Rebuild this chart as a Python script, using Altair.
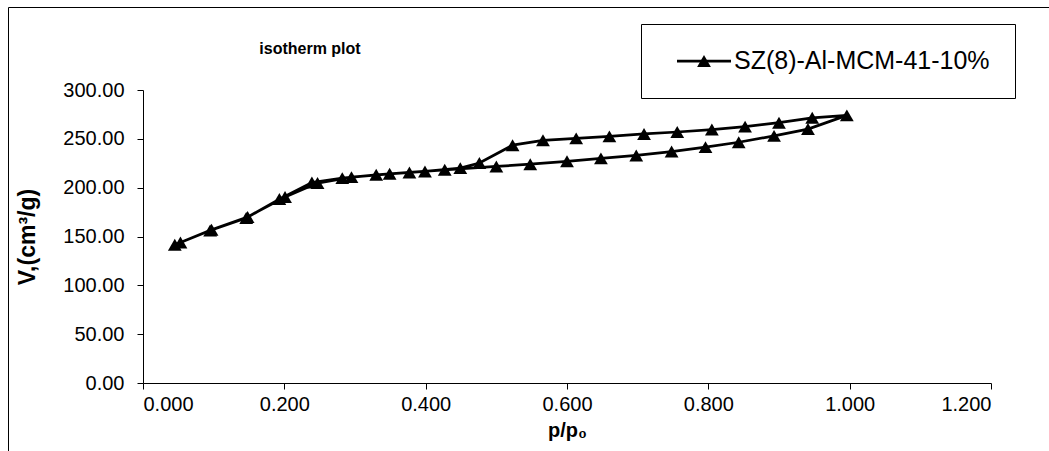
import altair as alt
import pandas as pd

# Isotherm: adsorption (ascending) followed by desorption (descending)
p_ads = [0.045, 0.095, 0.146, 0.193, 0.239, 0.282, 0.330, 0.377, 0.427, 0.500,
         0.548, 0.600, 0.648, 0.698, 0.748, 0.796, 0.843, 0.893, 0.941, 0.996]
v_ads = [141.6, 156.2, 168.9, 188.3, 205.3, 209.8, 213.2, 215.6, 218.3, 221.7,
         224.0, 227.0, 230.0, 233.0, 237.0, 241.5, 246.5, 253.0, 260.0, 274.0]
p_des = [0.947, 0.900, 0.852, 0.805, 0.756, 0.709, 0.660, 0.613, 0.566, 0.523,
         0.476, 0.449, 0.399, 0.349, 0.295, 0.247, 0.201, 0.148, 0.097, 0.053]
v_des = [271.5, 266.5, 262.5, 259.5, 257.0, 255.0, 252.5, 250.5, 248.5, 243.5,
         225.2, 220.0, 216.6, 214.2, 210.8, 204.7, 190.4, 170.0, 157.0, 143.9]

series_name = "SZ(8)-Al-MCM-41-10%"
chart_title = "isotherm plot"
x_ticks = [0.0, 0.2, 0.4, 0.6, 0.8, 1.0, 1.2]
y_ticks = [0, 50, 100, 150, 200, 250, 300]

p_all = p_ads + p_des
v_all = v_ads + v_des
df = pd.DataFrame({"p": p_all, "v": v_all, "o": list(range(len(p_all)))})
one = pd.DataFrame({"k": [0]})

FONT = "Liberation Sans"
W, H = 848, 293
PL, PT = 143, 90

x_enc = alt.X("p:Q", scale=alt.Scale(domain=[0, 1.2], nice=False, zero=False),
              axis=alt.Axis(values=x_ticks, format=".3f", title="p/p\u2080",
                            titleFontWeight="bold", titleFontSize=20, titlePadding=6,
                            labelFontSize=20, labelPadding=5, tickSize=6,
                            grid=False, domainColor="#000000", tickColor="#000000",
                            labelColor="#000000", titleColor="#000000", labelFont=FONT,
                            titleFont=FONT))
y_enc = alt.Y("v:Q", scale=alt.Scale(domain=[0, 300], nice=False),
              axis=alt.Axis(values=y_ticks, format=".2f", title="V,(cm\u00b3/g)",
                            titleFontWeight="bold", titleFontSize=23, titlePadding=23,
                            labelFontSize=20, labelPadding=13, tickSize=6,
                            grid=False, domainColor="#000000", tickColor="#000000",
                            labelColor="#000000", titleColor="#000000", labelFont=FONT,
                            titleFont=FONT))

frame = alt.Chart(one).mark_rect(filled=False, stroke="#000000", strokeWidth=1).encode(
    x=alt.value(8 - PL + 0.5), y=alt.value(7 - PT + 0.5),
    x2=alt.value(1049 - PL + 30), y2=alt.value(451 - PT + 30))

line = alt.Chart(df).mark_line(color="#000000", strokeWidth=2.75).encode(
    x=x_enc, y=y_enc, order="o:Q")
pts = alt.Chart(df).mark_point(shape="triangle-up", filled=True, size=190,
                               color="#000000", opacity=1).encode(x="p:Q", y="v:Q")

leg_box = alt.Chart(one).mark_rect(fill="#ffffff", stroke="#000000", strokeWidth=1).encode(
    x=alt.value(641 - PL + 0.5), x2=alt.value(1015 - PL + 0.5),
    y=alt.value(24 - PT + 0.5), y2=alt.value(98 - PT + 0.5))
leg_line = alt.Chart(one).mark_rule(color="#000000", strokeWidth=2.75).encode(
    x=alt.value(677 - PL), x2=alt.value(731 - PL), y=alt.value(61 - PT))
leg_pt = alt.Chart(one).mark_point(shape="triangle-up", filled=True, size=190,
                                   color="#000000", opacity=1).encode(
    x=alt.value(704 - PL), y=alt.value(61 - PT))
leg_text = alt.Chart(one).mark_text(align="left", baseline="middle", fontSize=25,
                                    font=FONT, color="#000000").encode(
    x=alt.value(734 - PL), y=alt.value(61 - PT), text=alt.value(series_name))

title_text = alt.Chart(one).mark_text(align="center", baseline="middle", fontSize=16,
                                      fontWeight="bold", font=FONT, color="#000000").encode(
    x=alt.value(310 - PL), y=alt.value(49 - PT), text=alt.value(chart_title))

chart = alt.layer(frame, line, pts, leg_box, leg_line, leg_pt, leg_text, title_text).properties(
    width=W, height=H,
    autosize=alt.AutoSizeParams(type="none"),
    padding={"left": PL, "top": PT, "right": 1049 - PL - W, "bottom": 451 - PT - H},
    background="#ffffff",
).configure_view(stroke=None)

chart.save("out.html", embed_options={"renderer": "svg", "actions": False})
